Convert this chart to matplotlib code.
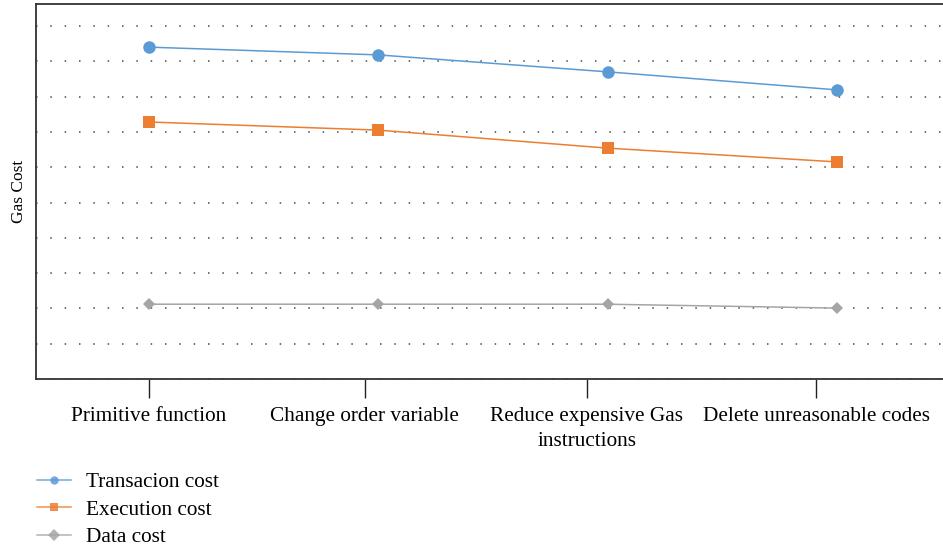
import matplotlib.pyplot as plt
import numpy as np

plt.rcParams['font.family'] = ['Liberation Serif', 'DejaVu Serif']

# categories on the x axis
steps = ['Primitive function', 'Change order variable',
         'Reduce expensive Gas\ninstructions', 'Delete unreasonable codes']

# gas values (no y labels on the original)
transaction_cost = [94000, 91800, 87000, 81900]
execution_cost = [72800, 70500, 65400, 61500]
data_cost = [21200, 21200, 21200, 20100]

series_names = ['Transacion cost', 'Execution cost', 'Data cost']
colors = ['#5b9bd5', '#ed7d31', '#a5a5a5']
markers = ['o', 's', 'D']
msizes = [9, 9, 6]

fig = plt.figure(figsize=(9.43, 5.47), dpi=100)
ax = fig.add_axes([0.0382, 0.307, 0.9618, 0.6856])

x = np.arange(len(steps))
for vals, name, c, m, ms in zip([transaction_cost, execution_cost, data_cost],
                                series_names, colors, markers, msizes):
    ax.plot(x, vals, color=c, marker=m, markersize=ms, linewidth=1.1,
            label=name, zorder=3, markeredgewidth=0)

ax.set_xlim(-0.493, 3.463)
ax.set_ylim(0, 106200)
ax.set_yticks(np.arange(0, 100001, 10000))
ax.set_yticklabels([])
ax.tick_params(axis='y', length=0)
ax.yaxis.grid(True, linestyle=(0, (0.9, 7.7)), color='#555555', linewidth=1.2)
ax.set_axisbelow(True)

# ticks sit slightly left of the markers, as in the source chart
tick_pos = [0, 0.94, 1.91, 2.91]
ax.set_xticks(tick_pos)
ax.set_xticklabels(steps, fontsize=15.3, linespacing=1.45, va='top')
ax.tick_params(axis='x', length=14, width=1, color='#222222', pad=6)

ax.set_ylabel('Gas Cost', fontsize=12.5, labelpad=3)

for side in ['left', 'bottom', 'top']:
    ax.spines[side].set_color('#333333')
    ax.spines[side].set_linewidth(1.3)
ax.spines['right'].set_visible(False)

leg = fig.legend(loc='lower left', bbox_to_anchor=(0.03, -0.016), frameon=False,
                 fontsize=15.3, handlelength=1.6, handletextpad=0.7,
                 labelspacing=0.36, borderaxespad=0)
for h in leg.legend_handles:
    h.set_markersize(6)
    h.set_alpha(0.85)

fig.savefig('out.png', dpi=100)
